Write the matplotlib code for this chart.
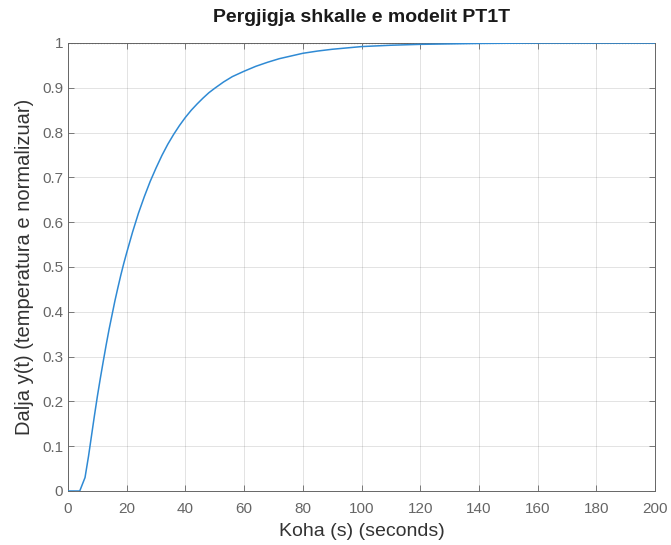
import matplotlib.pyplot as plt

plt.rcParams['font.family'] = ['Liberation Sans', 'DejaVu Sans']

# step response values
t = [0, 4, 5.8, 7, 8, 9, 10, 11, 12, 13, 14, 15, 16, 17, 18, 19, 20, 22, 24, 26, 28,
     30, 32, 34, 36, 38, 40, 42, 44, 46, 48, 50, 53, 56, 60, 64, 68, 72, 76, 80,
     85, 90, 95, 100, 110, 120, 130, 140, 160, 180, 200]
y = [0, 0, 0.03, 0.078, 0.123, 0.168, 0.211, 0.251, 0.289, 0.326, 0.361, 0.393,
     0.425, 0.454, 0.482, 0.508, 0.532, 0.578, 0.62, 0.657, 0.691, 0.721, 0.749,
     0.774, 0.796, 0.816, 0.834, 0.85, 0.864, 0.877, 0.889, 0.899, 0.913, 0.925,
     0.937, 0.948, 0.957, 0.965, 0.971, 0.977, 0.982, 0.986, 0.989, 0.992, 0.995,
     0.997, 0.998, 0.999, 1.0, 1.0, 1.0]
final_value = 1.0

xticks = list(range(0, 201, 20))
yticks = [i / 10 for i in range(11)]
ytick_labels = ['0'] + [f'{v:.1f}' for v in yticks[1:-1]] + ['1']

fig = plt.figure(figsize=(6.71, 5.45), dpi=100)
ax = fig.add_axes([68 / 671, 1 - 491 / 545, 587 / 671, 448 / 545])

ax.plot(t, y, color='#2f8ad4', lw=1.1, zorder=3)
ax.axhline(final_value, color='black', lw=0.8, ls=':', zorder=2)

ax.set_xlim(0, 200)
ax.set_ylim(0, 1)
ax.set_xticks(xticks)
ax.set_yticks(yticks)
ax.set_yticklabels(ytick_labels)
ax.grid(True, color='#262626', alpha=0.15, lw=0.6)
ax.tick_params(direction='in', length=4, width=0.6, colors='#666666',
               labelsize=11, top=True, right=True)
ax.tick_params(axis='x', pad=8)
for s in ax.spines.values():
    s.set_color('#666666')
    s.set_linewidth(0.7)

ax.set_title('Pergjigja shkalle e modelit PT1T', fontsize=14, fontweight='bold',
             color='#1a1a1a', pad=15)
ax.set_xlabel('Koha (s) (seconds)', fontsize=14, color='#333333', labelpad=5)
ax.set_ylabel('Dalja y(t) (temperatura e normalizuar)', fontsize=14.5, color='#333333',
              labelpad=6)

fig.savefig('out.png', dpi=100)
